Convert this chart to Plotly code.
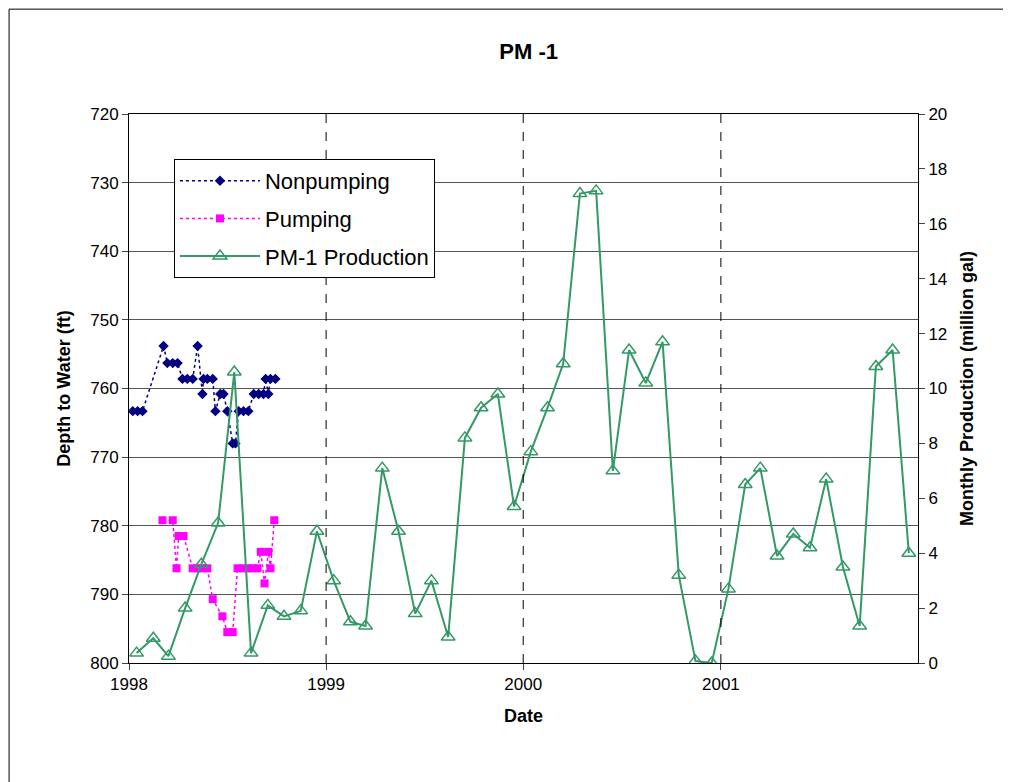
import plotly.graph_objects as go

np_dates = ["1998-01-08","1998-01-17","1998-01-26","1998-03-06","1998-03-13","1998-03-23","1998-04-01",
            "1998-04-10","1998-04-19","1998-04-29","1998-05-08","1998-05-17","1998-05-19","1998-05-26",
            "1998-06-05","1998-06-10","1998-06-19","1998-06-25","1998-07-02","1998-07-12","1998-07-17",
            "1998-07-23","1998-08-01","1998-08-10","1998-08-20","1998-08-29","1998-09-07","1998-09-11",
            "1998-09-16","1998-09-20","1998-09-29"]
np_depth = [763.3,763.3,763.3,753.8,756.3,756.3,756.3,758.6,758.6,758.6,753.8,760.8,758.6,758.6,
            758.6,763.3,760.8,760.8,763.3,768.0,768.0,763.3,763.3,763.3,760.8,760.8,760.8,758.6,
            760.8,758.6,758.6]

p_dates = ["1998-03-04","1998-03-23","1998-03-30","1998-04-03","1998-04-12","1998-04-29","1998-05-08",
           "1998-05-17","1998-05-26","1998-06-05","1998-06-23","1998-07-02","1998-07-12","1998-07-21",
           "1998-07-31","1998-08-09","1998-08-18","1998-08-27","1998-09-02","1998-09-09","1998-09-16",
           "1998-09-20","1998-09-27"]
p_depth = [779.2,779.2,786.2,781.5,781.5,786.2,786.2,786.2,786.2,790.7,793.2,795.5,795.5,786.2,
           786.2,786.2,786.2,786.2,783.8,788.4,783.8,786.2,779.2]

prod_dates = [f"{y}-{m:02d}-15" for y in (1998, 1999, 2000, 2001) for m in range(1, 13)]
prod = [0.36,0.9,0.25,2.0,3.6,5.1,10.6,0.36,2.1,1.7,1.9,4.8,
        3.0,1.5,1.35,7.1,4.8,1.8,3.0,0.95,8.2,9.3,9.8,5.7,
        7.7,9.3,10.9,17.1,17.2,7.0,11.4,10.2,11.7,3.2,0.07,0.0,
        2.7,6.5,7.1,3.9,4.7,4.2,6.7,3.5,1.35,10.8,11.4,4.0]

fig = go.Figure()
fig.add_trace(go.Scatter(x=np_dates, y=np_depth, name="Nonpumping", mode="lines+markers", legendgroup="a",
    line=dict(color="#000080", dash="dot", width=1.5), marker=dict(symbol="diamond", size=8, color="#000080")))
fig.add_trace(go.Scatter(x=p_dates, y=p_depth, name="Pumping", mode="lines+markers", legendgroup="b",
    line=dict(color="#FF00FF", dash="dot", width=1.5), marker=dict(symbol="square", size=8, color="#FF00FF")))
fig.add_trace(go.Scatter(x=prod_dates, y=prod, name="PM-1 Production", mode="lines+markers", yaxis="y2",
    legendgroup="c", line=dict(color="#339966", width=2),
    marker=dict(symbol="triangle-up-open", size=12, color="#339966", line=dict(width=1.5))))

for yr in ["1999-01-01", "2000-01-01", "2001-01-01"]:
    fig.add_shape(type="line", xref="x", yref="paper", x0=yr, x1=yr, y0=0, y1=1,
                  line=dict(color="black", dash="dash", width=1))

fnt = dict(family="Liberation Sans, Arial", size=17, color="black")
fig.update_layout(
    width=1011, height=782, paper_bgcolor="white", plot_bgcolor="white",
    margin=dict(l=121, r=101, t=106, b=127),
    font=fnt,
    title=dict(text="<b>PM -1</b>", x=0.515, xanchor="center", y=0.945, yanchor="middle", font=dict(size=22)),
    xaxis=dict(type="date", range=["1998-01-01", "2002-01-01"], tickvals=["1998-01-01","1999-01-01","2000-01-01","2001-01-01"],
               ticktext=["1998","1999","2000","2001"], showgrid=False, showline=True, linecolor="black",
               ticks="outside", mirror=True, ticklen=6,
               title=dict(text="<b>Date</b>", font=dict(size=18))),
    yaxis=dict(range=[800, 720], dtick=10, showgrid=True, gridcolor="#555555", showline=True,
               linecolor="black", ticks="outside", ticklen=6,
               title=dict(text="<b>Depth to Water (ft)</b>", font=dict(size=18), standoff=14)),
    yaxis2=dict(range=[0, 20], dtick=2, overlaying="y", side="right", showgrid=False, showline=True,
                linecolor="black", ticks="outside", ticklen=6,
                title=dict(text="<b>Monthly Production (million gal)</b>", font=dict(size=18), standoff=14)),
    legend=dict(x=0.057, y=0.918, xanchor="left", yanchor="top", bordercolor="black", borderwidth=1,
                bgcolor="white", font=dict(size=22), itemwidth=80, tracegroupgap=6),
    showlegend=True,
)
fig.add_shape(type="rect", xref="paper", yref="paper", x0=-0.152, x1=1.109, y0=-0.219, y1=1.191,
              line=dict(color="black", width=1))
fig.write_html("out.html")
